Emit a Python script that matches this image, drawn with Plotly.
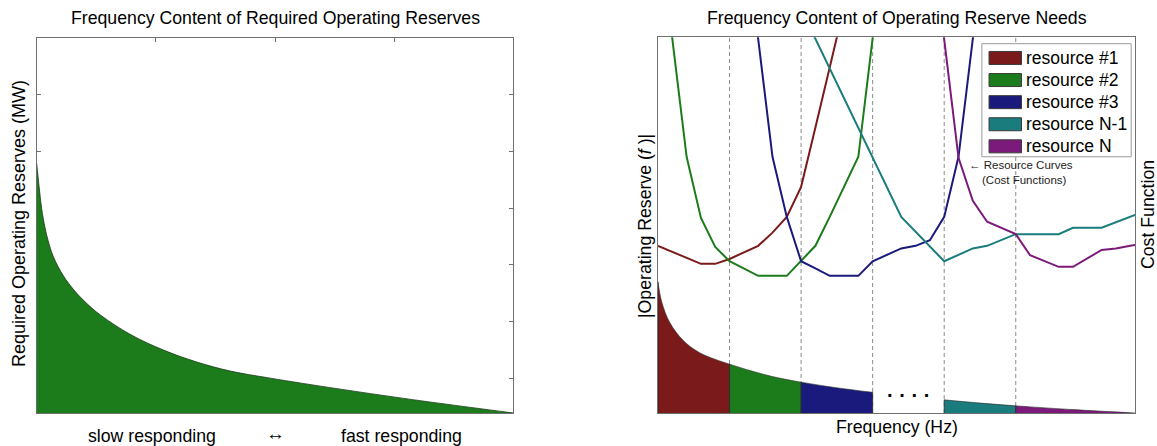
import plotly.graph_objects as go

W, H = 1157, 446

# ---------------- data ----------------
# Left panel: required operating reserves (arbitrary units, 0-100) vs response speed (0-100)
left_x = [0, 0.5, 1.05, 1.74, 2.4, 3.5, 5.6, 7.7, 9.1, 12.6, 19.6, 26.6, 33.6, 40.6, 49, 63, 77, 91, 100]
left_y = [66.6, 60.5, 54.5, 49.5, 46.0, 41.7, 36.6, 33.0, 31.0, 26.9, 21.0, 16.8, 13.6, 11.2, 9.3, 6.5, 3.9, 1.5, 0]

# Right panel: operating-reserve spectrum (bottom area), split into resource bands
reserve_x = [0, 0.8, 2.5, 5.3, 8.8, 15, 19.3, 24, 30, 37, 45, 60, 67, 75, 87, 100]
reserve_y = [34.9, 29.5, 24.0, 19.3, 16.0, 13.0, 11.3, 9.7, 8.2, 6.8, 5.5, 3.5, 2.7, 1.9, 0.9, 0]
section_edges = [0, 15, 30, 45, 60, 75, 100]
section_resource = [0, 1, 2, None, 3, 4]   # which resource fills each band (None = gap "....")

resource_names = ["resource #1", "resource #2", "resource #3", "resource N-1", "resource N"]
resource_colors = ["#7B1A1A", "#1C7C1C", "#1A1A7C", "#1A7C7C", "#7C1A7C"]

# Resource cost curves
r1_x = [0, 9, 12, 15, 21, 24, 27, 30, 33, 36, 39]
r1_y = [44.5, 39.7, 39.7, 41.0, 44.5, 48.0, 52.2, 60.2, 76.0, 92.0, 108.0]
r2_x = [0, 3, 6, 9, 12, 15, 21, 27, 30, 33, 36, 39, 42, 45, 48]
r2_y = [131, 99.8, 68.2, 51.9, 44.2, 40.4, 36.5, 36.5, 40.4, 44.5, 52.2, 60.2, 68.2, 99.8, 131]
r3_x = [18, 21, 24, 27, 30, 33, 36, 42, 45, 51, 54, 57, 60, 63, 66, 69]
r3_y = [131, 99.8, 68.2, 52.2, 40.4, 38.5, 36.5, 36.5, 40.4, 43.8, 44.5, 46.0, 52.2, 68.2, 99.8, 131]
rN1_x = [30, 51, 60, 66, 69, 75, 84, 87, 93, 99, 100]
rN1_y = [107.5, 52.2, 40.4, 43.8, 44.5, 47.6, 47.6, 49.3, 49.3, 52.2, 52.7]
rN_x = [57, 60, 63, 66, 69, 75, 78, 84, 87, 93, 96, 99, 100]
rN_y = [131, 99.8, 67.9, 56.5, 50.9, 47.6, 42.0, 38.9, 38.9, 43.4, 43.8, 44.5, 44.7]
cost_curves = [(r1_x, r1_y), (r2_x, r2_y), (r3_x, r3_y), (rN1_x, rN1_y), (rN_x, rN_y)]

# ---------------- figure ----------------
FONT = "Liberation Sans, Arial, sans-serif"
fig = go.Figure()

# left panel area
fig.add_trace(go.Scatter(x=left_x, y=left_y, mode="lines", fill="tozeroy",
                         fillcolor="#1C7C1C", line=dict(color="#1a3a1a", width=0.8, shape="spline"),
                         xaxis="x", yaxis="y", showlegend=False, hoverinfo="skip"))

# right panel bands
for i in range(len(section_edges) - 1):
    ri = section_resource[i]
    if ri is None:
        continue
    a, b = section_edges[i], section_edges[i + 1]
    xs = [x for x in reserve_x if a <= x <= b]
    ys = [y for x, y in zip(reserve_x, reserve_y) if a <= x <= b]
    fig.add_trace(go.Scatter(x=xs, y=ys, mode="lines", fill="tozeroy",
                             fillcolor=resource_colors[ri],
                             line=dict(color="#2a2a2a", width=0.6, shape="spline"),
                             xaxis="x2", yaxis="y2", showlegend=False, hoverinfo="skip"))
    # band edges (dark outline of the patch)
    for xe, ye in ((xs[0], ys[0]), (xs[-1], ys[-1])):
        fig.add_trace(go.Scatter(x=[xe, xe], y=[0, ye], mode="lines",
                                 line=dict(color="#2a2a2a", width=0.8),
                                 xaxis="x2", yaxis="y2", showlegend=False, hoverinfo="skip"))

# cost curves
for (cx, cy), col in zip(cost_curves, resource_colors):
    fig.add_trace(go.Scatter(x=cx, y=cy, mode="lines", line=dict(color=col, width=2),
                             xaxis="x2", yaxis="y2", showlegend=False, hoverinfo="skip"))

# ---------------- layout ----------------
def px_x(p):
    return p / W

def px_y(p):
    return 1 - p / H

AX = dict(showgrid=False, zeroline=False, showline=True,
          linecolor="#707070", linewidth=1)

left_ticks_y = [9.26, 24.39, 39.52, 54.65, 69.78, 84.91]

shapes = []
for e in section_edges[1:-1]:
    shapes.append(dict(type="line", xref="x2", yref="y2 domain", x0=e, x1=e, y0=0, y1=1,
                       line=dict(color="#8a8a8a", width=1, dash="4px,3px"), layer="below"))

# custom legend (box + swatches)
leg_x0, leg_x1, leg_y0, leg_y1 = 67.9, 99.2, 68.2, 98.3
shapes.append(dict(type="rect", xref="x2", yref="y2", x0=leg_x0, x1=leg_x1, y0=leg_y0, y1=leg_y1,
                   line=dict(color="#9a9a9a", width=1), fillcolor="white", layer="above"))
annotations = []
row0, drow, sh = 94.5, 5.88, 1.73
for k, (nm, col) in enumerate(zip(resource_names, resource_colors)):
    yc = row0 - k * drow
    shapes.append(dict(type="rect", xref="x2", yref="y2", x0=69.4, x1=76.2, y0=yc - sh, y1=yc + sh,
                       line=dict(color="#3a3a3a", width=1), fillcolor=col, layer="above"))
    annotations.append(dict(xref="x2", yref="y2", x=76.7, y=yc, text=nm, showarrow=False,
                            xanchor="left", yanchor="middle",
                            font=dict(family=FONT, size=17.5, color="black")))

def txt(x, y, s, size=17.7, angle=0, xanchor="center", color="black"):
    annotations.append(dict(xref="paper", yref="paper", x=px_x(x), y=px_y(y), text=s,
                            showarrow=False, xanchor=xanchor, yanchor="middle", textangle=angle,
                            font=dict(family=FONT, size=size, color=color)))

txt(275, 18, "Frequency Content of Required Operating Reserves")
txt(897, 18, "Frequency Content of Operating Reserve Needs")
txt(19, 224, "Required Operating Reserves (MW)", size=18, angle=-90)
txt(152, 436, "slow responding")
txt(275, 433, "↔", size=19)
txt(401, 436, "fast responding")
txt(897, 427, "Frequency (Hz)")
txt(645, 226, "|Operating Reserve (<i>f</i> )|", angle=-90)
txt(1148, 215, "Cost Function", angle=-90)
txt(967, 164.5, "← Resource Curves", size=11.5, xanchor="left", color="#222222")
txt(980, 179.5, "(Cost Functions)", size=11.5, xanchor="left", color="#222222")
txt(908, 395, "<b>· · · ·</b>", size=20)

fig.update_layout(
    width=W, height=H, autosize=False,
    margin=dict(l=0, r=0, t=0, b=0),
    paper_bgcolor="white", plot_bgcolor="white",
    showlegend=False,
    font=dict(family=FONT, size=17, color="black"),
    xaxis=dict(AX, mirror="ticks", domain=[36.7 / W, 513.3 / W], range=[0, 100], anchor="y",
               tickvals=[25, 50, 75], ticks="inside", ticklen=4, tickcolor="#707070",
               showticklabels=False, layer="below traces"),
    yaxis=dict(AX, mirror="ticks", domain=[1 - 413 / H, 1 - 38.3 / H], range=[0, 100], anchor="x",
               tickvals=left_ticks_y, ticks="inside", ticklen=4, tickcolor="#707070",
               showticklabels=False, layer="below traces"),
    xaxis2=dict(AX, mirror=True, domain=[658 / W, 1135 / W], range=[0, 100], anchor="y2",
                showticklabels=False, ticks=""),
    yaxis2=dict(AX, mirror=True, domain=[1 - 413 / H, 1 - 37.3 / H], range=[0, 100], anchor="x2",
                showticklabels=False, ticks=""),
    shapes=shapes,
    annotations=annotations,
)

fig.write_html("out.html", config={"displayModeBar": False},
               post_script="document.body.style.margin='0';document.body.style.overflow='hidden';")
